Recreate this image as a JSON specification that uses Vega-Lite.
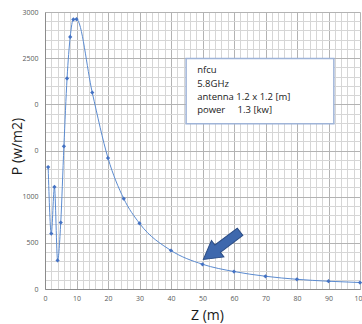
{
  "$schema": "https://vega.github.io/schema/vega-lite/v6.json",
  "autosize": "none",
  "width": 315,
  "height": 277,
  "padding": {"left": 45, "top": 12, "right": 2, "bottom": 35},
  "background": "white",
  "config": {
    "view": {"stroke": null},
    "font": "Open Sans",
    "axis": {
      "labelColor": "#595959",
      "labelFontSize": 7,
      "titleFontSize": 14,
      "titleFontWeight": "normal",
      "titleColor": "#1a1a1a",
      "ticks": false,
      "domainColor": "#8c8c8c",
      "domainWidth": 1
    }
  },
  "datasets": {
    "curve": [
      {"z": 1, "p": 1320},
      {"z": 2, "p": 600},
      {"z": 3, "p": 1105},
      {"z": 4, "p": 310},
      {"z": 5, "p": 720},
      {"z": 6, "p": 1545},
      {"z": 7, "p": 2280},
      {"z": 8, "p": 2730},
      {"z": 9, "p": 2920},
      {"z": 10, "p": 2922},
      {"z": 15, "p": 2127},
      {"z": 20, "p": 1418},
      {"z": 25, "p": 978},
      {"z": 30, "p": 711},
      {"z": 40, "p": 417},
      {"z": 50, "p": 268},
      {"z": 60, "p": 189},
      {"z": 70, "p": 138},
      {"z": 80, "p": 105},
      {"z": 90, "p": 84},
      {"z": 100, "p": 70}
    ],
    "box": [{"x1": 44.8, "x2": 91.7, "y1": 1790, "y2": 2497}],
    "notes": [
      {"label": "nfcu", "z": 48.3, "p": 2377},
      {"label": "5.8GHz", "z": 48.3, "p": 2225},
      {"label": "antenna 1.2 x 1.2 [m]", "z": 48.3, "p": 2084},
      {"label": "power\u00a0\u00a0\u00a0\u00a0\u00a01.3 [kw]", "z": 48.3, "p": 1942}
    ],
    "arrow": [{"z": 56.1, "p": 470}]
  },
  "resolve": {"axis": {"x": "independent", "y": "independent"}},
  "layer": [
    {
      "data": {"name": "curve"},
      "mark": {"type": "line", "interpolate": "monotone", "color": "#5b8bd0", "strokeWidth": 1},
      "encoding": {
        "x": {
          "field": "z", "type": "quantitative",
          "scale": {"domain": [0, 100], "nice": false, "zero": false},
          "axis": {
            "orient": "bottom",
            "tickCount": 50,
            "labels": false,
            "domain": false,
            "title": null,
            "grid": true,
            "gridColor": "#d6d6d6"
          }
        },
        "y": {
          "field": "p", "type": "quantitative",
          "scale": {"domain": [0, 3000], "nice": false},
          "axis": {
            "orient": "left",
            "tickCount": 30,
            "labels": false,
            "domain": false,
            "title": null,
            "grid": true,
            "gridColor": "#d6d6d6"
          }
        }
      }
    },
    {
      "data": {"name": "curve"},
      "mark": {"type": "point", "shape": "diamond", "filled": true, "size": 18, "color": "#4472c4", "opacity": 1},
      "encoding": {
        "x": {
          "field": "z", "type": "quantitative",
          "axis": {
            "orient": "bottom",
            "title": "Z (m)",
            "titleX": 162,
            "tickCount": 10,
            "format": "d",
            "labelPadding": 5,
            "titlePadding": 7,
            "grid": true,
            "gridColor": "#b3b3b3",
            "labelFlush": false,
            "labelOverlap": false
          }
        },
        "y": {
          "field": "p", "type": "quantitative",
          "axis": {
            "orient": "left",
            "title": "P (w/m2)",
            "titleX": -28,
            "titleY": 134,
            "titleBaseline": "middle",
            "titleAlign": "center",
            "tickCount": 6,
            "format": "d",
            "labelExpr": "(datum.value === 1500 || datum.value === 2000) ? '0' : datum.label",
            "labelPadding": 7,
            "grid": true,
            "gridColor": "#b3b3b3",
            "labelFlush": false,
            "labelOverlap": false
          }
        }
      }
    },
    {
      "data": {"name": "box"},
      "mark": {"type": "rect", "fill": "white", "stroke": "#9fb4d8", "strokeWidth": 1.5},
      "encoding": {
        "x": {"field": "x1", "type": "quantitative", "axis": null},
        "x2": {"field": "x2"},
        "y": {"field": "y1", "type": "quantitative", "axis": null},
        "y2": {"field": "y2"}
      }
    },
    {
      "data": {"name": "notes"},
      "mark": {"type": "text", "align": "left", "baseline": "middle", "fontSize": 9.5, "font": "Open Sans", "color": "#1a1a1a"},
      "encoding": {
        "x": {"field": "z", "type": "quantitative", "axis": null},
        "y": {"field": "p", "type": "quantitative", "axis": null},
        "text": {"field": "label"}
      }
    },
    {
      "data": {"name": "arrow"},
      "mark": {
        "type": "point",
        "shape": "M -1 -0.2 L 0.22 -0.2 L 0.22 -0.45 L 1 0 L 0.22 0.45 L 0.22 0.2 L -1 0.2 Z",
        "filled": true,
        "size": 2116,
        "angle": 143,
        "fill": "#3e68ad",
        "stroke": "#2c4d85",
        "strokeWidth": 1,
        "opacity": 1
      },
      "encoding": {
        "x": {"field": "z", "type": "quantitative", "axis": null},
        "y": {"field": "p", "type": "quantitative", "axis": null}
      }
    }
  ]
}
